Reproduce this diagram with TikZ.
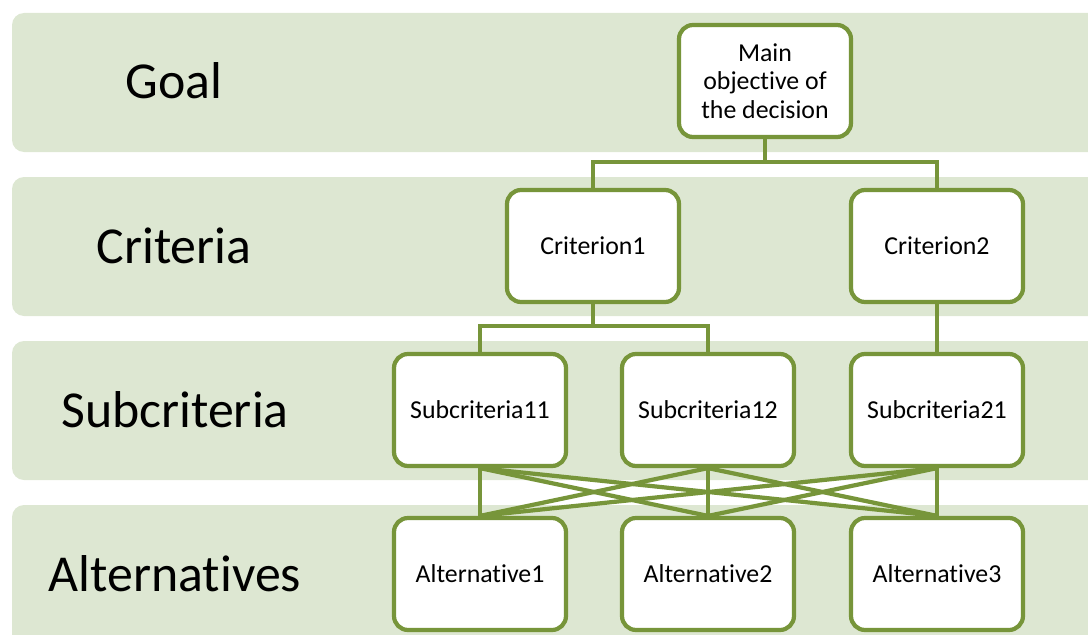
\documentclass[tikz,border=0pt]{standalone}
\usepackage{fontspec}
\setmainfont{Carlito}[Ligatures={NoCommon,NoContextual,NoRequired},RawFeature={-liga;-clig;-calt;-dlig}]
\usepackage{tikz}
\usetikzlibrary{calc}
\definecolor{bandgreen}{HTML}{DDE7D2}
\definecolor{olive}{HTML}{77953A}

\begin{document}
\begin{tikzpicture}
      [
        x=0.02cm, y=-0.02cm,
        band/.style={fill=bandgreen, draw=none, rounded corners=0.24cm},
        level/.style={font=\fontsize{29.5}{32}\selectfont, anchor=center},
        box/.style={draw=olive, line width=2.4pt, fill=white, rounded corners=0.28cm,
                    minimum width=3.44cm, minimum height=2.24cm, align=center,
                    font=\fontsize{14.7}{16.2}\selectfont, inner sep=2pt},
        link/.style={draw=olive, line width=2.4pt}
      ]
      \useasboundingbox (0,0) rectangle (1088,635);
      \clip (0,0) rectangle (1088,635);
      % bands
      \foreach \t/\b in {13/152,177/316,341/480,505/660} {
          \fill [band] (12,\t) rectangle (1120,\b);
      }
      % level labels
      \node [level] (goal) at (174,81) {Goal};
      \node [level] (crit) at (174,246) {Criteria};
      \node [level] (sub) at (175,410) {Subcriteria};
      \node [level] (alt) at (175,574) {Alternatives};
      % boxes
      \node [box] (main) at (765,81) {Main\\objective of\\the decision};
      \node [box] (c1) at (593,246) {Criterion1};
      \node [box] (c2) at (937,246) {Criterion2};
      \node [box] (s11) at (480,410) {Subcriteria11};
      \node [box] (s12) at (708,410) {Subcriteria12};
      \node [box] (s21) at (937,410) {Subcriteria21};
      \node [box] (a1) at (480,574) {Alternative1};
      \node [box] (a2) at (708,574) {Alternative2};
      \node [box] (a3) at (937,574) {Alternative3};
      % junctions
      \coordinate (j1) at (765,162);
      \coordinate (j2) at (593,326);
      % tree edges
      \draw [link] (main.south) -- (j1);
      \draw [link] (j1) -| (c1.north);
      \draw [link] (j1) -| (c2.north);
      \draw [link] (c1.south) -- (j2);
      \draw [link] (j2) -| (s11.north);
      \draw [link] (j2) -| (s12.north);
      \draw [link] (c2.south) -- (s21.north);
      % crossings edges
      \foreach \s in {s11,s12,s21} {
          \foreach \a in {a1,a2,a3} {
              \draw [link] (\s.south) -- (\a.north);
          }
      }
\end{tikzpicture}
\end{document}
